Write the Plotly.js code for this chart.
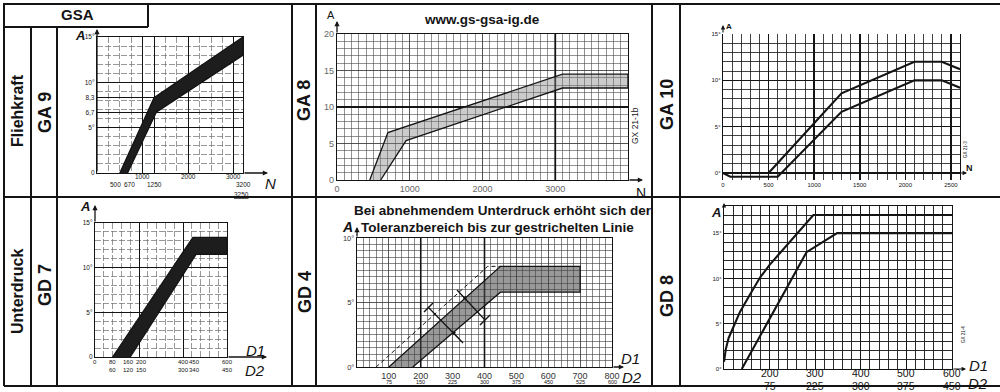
<!DOCTYPE html>
<html><head><meta charset="utf-8">
<script src="https://cdn.plot.ly/plotly-3.0.1.min.js"></script>
<style>html,body{margin:0;padding:0;background:#fff}#chart{width:1000px;height:392px}</style>
</head><body><div id="chart"></div>
<script>
// ================= DATA =================
// GA 9 (Fliehkraft): tolerance band, A vs N
const ga9UpperN = [500, 1250, 3200];
const ga9UpperA = [0, 8.3, 15];
const ga9LowerN = [670, 1300, 3200];
const ga9LowerA = [0, 6.7, 13];
const ga9XTicks = [500, 670, 1000, 1250, 2000, 3000, 3200];
const ga9XTickText = ['500', '670', '1000', '1250', '2000', '3000', '3200'];
const ga9YTicks = [0, 5, 6.7, 8.3, 10, 15];
const ga9YTickText = ['0', '5°', '6,7', '8,3', '10°', '15°'];

// GA 8
const ga8UpperN = [450, 700, 3100, 4000];
const ga8UpperA = [0, 6.5, 14.5, 14.5];
const ga8LowerN = [600, 950, 3100, 4000];
const ga8LowerA = [0, 5.4, 12.6, 12.6];
const ga8XTicks = [0, 1000, 2000, 3000];
const ga8YTicks = [0, 5, 10, 15, 20];

// GA 10 (two limit lines)
const ga10UpperN = [500, 1300, 2100, 2400, 2600];
const ga10UpperA = [0, 8.6, 12, 12, 11.2];
const ga10LowerN = [0, 80, 600, 1300, 2100, 2400, 2600];
const ga10LowerA = [0, -0.4, -0.4, 6.6, 10, 10, 9.2];
const ga10XTicks = [0, 500, 1000, 1500, 2000, 2500];
const ga10XTickText = ['0', '500', '1000', '1500', '2000', '2500'];
const ga10YTicks = [0, 5, 10, 15];
const ga10YTickText = ['0°', '5°', '10°', '15°'];

// GD 7 (Unterdruck)
const gd7UpperD1 = [80, 445, 600];
const gd7UpperA = [0, 13.4, 13.4];
const gd7LowerD1 = [160, 460, 600];
const gd7LowerA = [0, 11.5, 11.5];
const gd7D1Ticks = [0, 80, 160, 200, 400, 450, 600];
const gd7D1Text = ['0', '80', '160', '200', '400', '450', '600'];
const gd7D2Text = ['', '60', '120', '150', '300', '340', '450'];
const gd7YTicks = [0, 5, 10, 15];
const gd7YTickText = ['0', '5°', '10°', '15°'];

// GD 4
const gd4UpperD1 = [100, 450, 700];
const gd4UpperA = [0, 7.8, 7.8];
const gd4LowerD1 = [175, 450, 700];
const gd4LowerA = [0, 5.8, 5.8];
const gd4DashedD1 = [60, 410, 450];
const gd4DashedA = [0, 7.8, 7.8];
const gd4D1Ticks = [100, 200, 300, 400, 500, 600, 700, 800];
const gd4D1Text = ['100', '200', '300', '400', '500', '600', '700', '800'];
const gd4D2Text = ['75', '150', '225', '300', '375', '450', '525', '600'];
const gd4YTicks = [0, 5, 10];
const gd4YTickText = ['0°', '5°', '10°'];

// GD 8 (two limit curves)
const gd8UpperD1 = [100, 104, 110, 120, 135, 158, 179, 200, 223, 263, 296, 600];
const gd8UpperA = [0.8, 2.2, 3.4, 4.6, 6.3, 8.3, 10.1, 11.5, 12.8, 15.1, 17, 17];
const gd8LowerD1 = [139, 281, 348, 600];
const gd8LowerA = [0, 12.9, 15, 15];
const gd8D1Ticks = [200, 300, 400, 500, 600];
const gd8D1Text = ['200', '300', '400', '500', '600'];
const gd8D2Text = ['75', '225', '300', '375', '450'];
const gd8YTicks = [0, 5, 10, 15];
const gd8YTickText = ['0°', '5°', '10°', '15°'];

// ================= LAYOUT HELPERS =================
const W = 1000, H = 392;
const FONT = 'Liberation Sans, Arial, sans-serif';
const px = x => x / W;
const py = y => 1 - y / H;
const INK = '#141414';

function band(ux, uy, lx, ly, xa, ya, fill) {
  return {
    type: 'scatter', mode: 'lines', xaxis: xa, yaxis: ya, hoverinfo: 'skip',
    x: ux.concat(lx.slice().reverse()), y: uy.concat(ly.slice().reverse()),
    fill: 'toself', fillcolor: fill, line: {color: INK, width: 1.3}
  };
}
function line(x, y, xa, ya, extra) {
  return Object.assign({type: 'scatter', mode: 'lines', xaxis: xa, yaxis: ya, hoverinfo: 'skip',
    x, y, line: {color: INK, width: 2.1}}, extra || {});
}

const traces = [
  band(ga9UpperN, ga9UpperA, ga9LowerN, ga9LowerA, 'x', 'y', '#1d1d1d'),
  band(ga8UpperN, ga8UpperA, ga8LowerN, ga8LowerA, 'x2', 'y2', 'rgba(130,130,130,0.42)'),
  line(ga10UpperN, ga10UpperA, 'x3', 'y3'),
  line(ga10LowerN, ga10LowerA, 'x3', 'y3'),
  band(gd7UpperD1, gd7UpperA, gd7LowerD1, gd7LowerA, 'x4', 'y4', '#1d1d1d'),
  band(gd4UpperD1, gd4UpperA, gd4LowerD1, gd4LowerA, 'x5', 'y5', 'rgba(70,70,70,0.55)'),
  line(gd4DashedD1, gd4DashedA, 'x5', 'y5', {line: {color: INK, width: 1, dash: '4px,3px'}}),
  line(gd8UpperD1, gd8UpperA, 'x6', 'y6'),
  line(gd8LowerD1, gd8LowerA, 'x6', 'y6')
];

const base = {
  zeroline: false, showline: true, mirror: true, linecolor: INK, linewidth: 1.2,
  ticks: '', fixedrange: true, layer: 'below traces',
  tickfont: {family: FONT, size: 7, color: INK}
};
function ax(o) { return Object.assign({}, base, o); }
const dashMinor = (dtick) => ({dtick, tick0: 0, showgrid: true, gridcolor: '#6e6e6e', gridwidth: 0.7, griddash: '6px,2px'});
const solidMinor = (dtick, c, w) => ({dtick, tick0: 0, showgrid: true, gridcolor: c, gridwidth: w});

const layout = {
  width: W, height: H, margin: {l: 0, r: 0, t: 0, b: 0},
  paper_bgcolor: '#fff', plot_bgcolor: 'rgba(0,0,0,0)', showlegend: false,
  font: {family: FONT, color: INK},
  // GA 9
  xaxis: ax({domain: [px(97), px(243)], range: [0, 3200], anchor: 'y',
    tickmode: 'array', tickvals: ga9XTicks.filter(v => v >= 1000), showticklabels: false,
    showgrid: true, gridcolor: INK, gridwidth: 1, minor: dashMinor(250)}),
  yaxis: ax({domain: [py(173), py(37)], range: [0, 15], anchor: 'x',
    tickmode: 'array', tickvals: ga9YTicks, ticktext: ga9YTickText, tickfont: {family: FONT, size: 6.5, color: INK},
    showgrid: true, gridcolor: INK, gridwidth: 1, minor: dashMinor(1)}),
  // GA 8
  xaxis2: ax({domain: [px(337), px(628)], range: [0, 4000], anchor: 'y2',
    tickmode: 'array', tickvals: ga8XTicks, tickfont: {family: FONT, size: 9, color: '#666'},
    showgrid: true, gridcolor: '#3a3a3a', gridwidth: 0.7, minor: solidMinor(100, '#4a4a4a', 0.6)}),
  yaxis2: ax({domain: [py(180), py(34)], range: [0, 20], anchor: 'x2',
    tickmode: 'array', tickvals: ga8YTicks, tickfont: {family: FONT, size: 9, color: '#666'},
    showgrid: true, gridcolor: '#3a3a3a', gridwidth: 0.7, minor: solidMinor(1, '#4a4a4a', 0.6)}),
  // GA 10
  xaxis3: ax({domain: [px(723), px(960)], range: [0, 2600], anchor: 'y3', showline: false,
    tickmode: 'array', tickvals: ga10XTicks, ticktext: ga10XTickText, tickfont: {family: FONT, size: 6, color: INK},
    showgrid: true, gridcolor: INK, gridwidth: 1.6, minor: solidMinor(100, INK, 0.8)}),
  yaxis3: ax({domain: [py(179.5), py(34)], range: [-0.7, 15], anchor: 'x3',
    zeroline: true, zerolinecolor: INK, zerolinewidth: 1.6,
    tickmode: 'array', tickvals: ga10YTicks, ticktext: ga10YTickText, tickfont: {family: FONT, size: 6, color: INK},
    showgrid: true, gridcolor: INK, gridwidth: 1.6, minor: solidMinor(1, INK, 0.8)}),
  // GD 7
  xaxis4: ax({domain: [px(95), px(227)], range: [0, 600], anchor: 'y4',
    tickmode: 'array', tickvals: [200, 400], showticklabels: false,
    showgrid: true, gridcolor: INK, gridwidth: 1, minor: dashMinor(40)}),
  yaxis4: ax({domain: [py(357), py(223)], range: [0, 15], anchor: 'x4',
    tickmode: 'array', tickvals: gd7YTicks, ticktext: gd7YTickText, tickfont: {family: FONT, size: 6.5, color: INK},
    showgrid: true, gridcolor: INK, gridwidth: 1, minor: dashMinor(1)}),
  // GD 4
  xaxis5: ax({domain: [px(357), px(612)], range: [0, 800], anchor: 'y5',
    tickmode: 'array', tickvals: gd4D1Ticks, ticktext: gd4D1Text, tickfont: {family: FONT, size: 9, color: '#333'},
    showgrid: true, gridcolor: '#3a3a3a', gridwidth: 0.6, minor: solidMinor(20, '#3a3a3a', 0.6)}),
  yaxis5: ax({domain: [py(367), py(238)], range: [0, 10], anchor: 'x5',
    tickmode: 'array', tickvals: gd4YTicks, ticktext: gd4YTickText, tickfont: {family: FONT, size: 7.5, color: '#333'},
    showgrid: true, gridcolor: '#3a3a3a', gridwidth: 0.6, minor: solidMinor(0.5, '#3a3a3a', 0.6)}),
  // GD 8
  xaxis6: ax({domain: [px(724), px(952)], range: [100, 600], anchor: 'y6',
    tickmode: 'array', tickvals: gd8D1Ticks, showticklabels: false,
    showgrid: true, gridcolor: INK, gridwidth: 0.9, minor: solidMinor(20, INK, 0.9)}),
  yaxis6: ax({domain: [py(369), py(206)], range: [0, 18], anchor: 'x6',
    tickmode: 'array', tickvals: gd8YTicks, ticktext: gd8YTickText, tickfont: {family: FONT, size: 6, color: INK},
    showgrid: true, gridcolor: INK, gridwidth: 0.9, minor: solidMinor(1, INK, 0.9)}),
  shapes: [],
  annotations: []
};

// ---- table frame ----
const S = layout.shapes;
function pl(x0, y0, x1, y1, w) {
  S.push({type: 'line', xref: 'paper', yref: 'paper', x0: px(x0), y0: py(y0), x1: px(x1), y1: py(y1),
    line: {color: INK, width: w || 2}});
}
pl(3, 4, 1000, 4);        // top
pl(4, 3, 4, 386);         // left
pl(4, 27, 148, 27);       // GSA box bottom
pl(148, 4, 148, 27);      // GSA box right
pl(4, 197, 1000, 197);    // row separator
pl(4, 386, 1000, 386);    // bottom
pl(31, 27, 31, 386);
pl(57, 27, 57, 386);
pl(292, 4, 292, 386);
pl(316, 4, 316, 386);
pl(652, 4, 652, 386);
pl(680, 4, 680, 386);

// emphasized grid lines (style only)
function dl(xa, ya, x0, y0, x1, y1, w) {
  S.push({type: 'line', xref: xa, yref: ya, x0, y0, x1, y1, layer: 'between', line: {color: INK, width: w}});
}
dl('x2', 'y2', 3000, 0, 3000, 20, 1.8);
dl('x2', 'y2', 0, 10, 4000, 10, 1.8);
dl('x5', 'y5', 200, 0, 200, 10, 1.6);
dl('x5', 'y5', 400, 0, 400, 10, 1.6);

// GD 4 tolerance markers
pl(428, 307, 463, 343, 1.2);
pl(457, 290, 485, 320, 1.2);
pl(424, 312, 433, 303, 1.4);
pl(480, 325, 490, 315, 1.4);

// ---- annotations ----
const A = layout.annotations;
function txt(x, y, text, size, o) {
  A.push(Object.assign({xref: 'paper', yref: 'paper', x: px(x), y: py(y), text, showarrow: false,
    font: {family: FONT, size, color: INK}, xanchor: 'center', yanchor: 'middle'}, o || {}));
}
function arrow(x, y, axp, ayp, w) {
  A.push({xref: 'paper', yref: 'paper', x: px(x), y: py(y), ax: axp, ay: ayp, text: '', showarrow: true,
    arrowhead: 2, arrowsize: 0.8, arrowwidth: w || 1.3, arrowcolor: INK});
}
function dataLabels(xa, vals, texts, y, size, shifts) {
  vals.forEach((v, i) => {
    if (!texts[i]) return;
    A.push({xref: xa, yref: 'paper', x: v, y: py(y), text: texts[i], showarrow: false,
      xshift: (shifts && shifts[texts[i]]) || 0,
      font: {family: FONT, size, color: INK}, xanchor: 'center', yanchor: 'middle'});
  });
}

// table headings
txt(77, 15, '<b>GSA</b>', 15);
txt(17, 111, '<b>Fliehkraft</b>', 16, {textangle: -90});
txt(45, 113, '<b>GA 9</b>', 18, {textangle: -90});
txt(17, 292, '<b>Unterdruck</b>', 16, {textangle: -90});
txt(45, 285, '<b>GD 7</b>', 18, {textangle: -90});
txt(304, 101, '<b>GA 8</b>', 18, {textangle: -90});
txt(305, 292, '<b>GD 4</b>', 18, {textangle: -90});
txt(667, 105, '<b>GA 10</b>', 18, {textangle: -90});
txt(667, 296, '<b>GD 8</b>', 18, {textangle: -90});

// GA 9
const ga9Row2 = new Set(['500', '670', '1250', '3200']);
const ga9Shift = {'500': -4, '670': 2};
ga9XTicks.forEach((v, i) => {
  const t = ga9XTickText[i];
  A.push({xref: 'x', yref: 'paper', x: v, y: py(ga9Row2.has(t) ? 184 : 177), text: t, showarrow: false,
    xshift: ga9Shift[t] || 0,
    font: {family: FONT, size: 6.5, color: INK}, xanchor: 'center', yanchor: 'middle'});
});
txt(241, 194, '<span style="text-decoration:underline">3250</span>', 6.5);
txt(80, 35, '<b><i>A</i></b>', 13);
txt(270, 183, '<i>N</i>', 15);
arrow(97, 29, 0, 144);
arrow(268, 173, -25, 0);

// GA 8
txt(482, 20, '<b>www.gs-gsa-ig.de</b>', 13.5);
txt(331, 15, 'A', 11);
txt(641, 193, 'N', 14);
txt(635, 126, 'GX 21-1b', 8.5, {textangle: -90});
arrow(337, 21, 0, 13);
arrow(643, 180, -15, 0);

// GA 10
txt(729, 27, '<b>A</b>', 8);
txt(969, 168, '<b>N</b>', 9);
txt(965, 150, 'GX 21-3', 4.5, {textangle: -90});
arrow(723, 25, 0, 9, 1.1);
arrow(967, 173, -8, 0, 1.1);

// GD 7
dataLabels('x4', gd7D1Ticks, gd7D1Text, 362, 6, {'160': -2, '200': 2});
dataLabels('x4', gd7D1Ticks, gd7D2Text, 370, 6, {'120': -2, '150': 2});
txt(85, 207, '<b><i>A</i></b>', 13);
txt(255, 350, '<i>D1</i>', 15);
txt(255, 370, '<i>D2</i>', 15);
arrow(95, 205, 0, 18);
arrow(267, 357, -40, 0);

// GD 4
txt(503, 210, '<b>Bei abnehmendem Unterdruck erhöht sich der</b>', 13.5);
txt(497, 227, '<b>Toleranzbereich bis zur gestrichelten Linie</b>', 13.5);
dataLabels('x5', gd4D1Ticks, gd4D2Text, 382, 5.5);
txt(347, 227, '<b><i>A</i></b>', 14);
txt(630, 358, '<i>D1</i>', 15);
txt(632, 377, '<i>D2</i>', 15);
arrow(357, 227, 0, 11);
arrow(624, 367, -12, 0);
arrow(452, 331, 11, 12, 1);
arrow(467, 300, -10, -10, 1);

// GD 8
dataLabels('x6', gd8D1Ticks, gd8D1Text, 373, 10.5);
dataLabels('x6', gd8D1Ticks, gd8D2Text, 385.5, 10.5);
txt(716, 212, '<b><i>A</i></b>', 13);
txt(978, 365, '<i>D1</i>', 15);
txt(978, 383, '<i>D2</i>', 15);
txt(963, 335, 'GX 21-4', 4.5, {textangle: -90});
arrow(724, 203, 0, 4, 1.1);
arrow(966, 369, -14, 0, 1.1);

Plotly.newPlot('chart', traces, layout, {staticPlot: true, displayModeBar: false});
</script>
</body></html>
